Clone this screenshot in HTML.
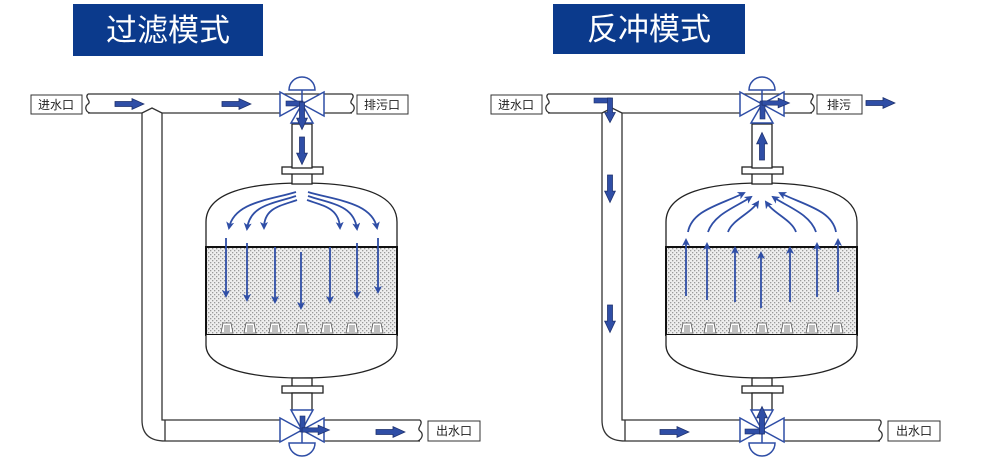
<!DOCTYPE html>
<html><head><meta charset="utf-8"><style>
body{margin:0;background:#fff;}
svg{display:block;font-family:"Liberation Sans","Noto Sans CJK SC",sans-serif;}
</style></head><body>
<svg width="1000" height="467" viewBox="0 0 1000 467" xmlns="http://www.w3.org/2000/svg">
<defs>
<pattern id="dots" width="4" height="4" patternUnits="userSpaceOnUse">
<rect width="4" height="4" fill="#eeeeee"/><rect x="0" y="0" width="1.3" height="1.3" fill="#9a9a9a"/><rect x="2" y="2" width="1.3" height="1.3" fill="#9a9a9a"/>
</pattern>
<marker id="ah" markerWidth="8" markerHeight="8" refX="6" refY="4" orient="auto" markerUnits="userSpaceOnUse">
<path d="M0,0 L8,4 L0,8 L2,4 Z" fill="#2f4ea6"/></marker>
<polygon id="fa" points="0,-2.8 17,-2.8 17,-6 29,0 17,6 17,2.8 0,2.8" fill="#2f4ea6" stroke="#1d2f6a" stroke-width="0.8"/>
<g id="nz"><path d="M-6,10 L-4,0 L4,0 L6,10 Z" fill="#fff" stroke="#555" stroke-width="0.8"/><path d="M-2,2 V9 M0,2 V9 M2,2 V9" stroke="#444" stroke-width="0.7"/></g>
<g id="tank" fill="none" stroke="#222" stroke-width="1.3">
<path d="M206,248 V222 C206,192 250,183 302,183 C354,183 397,192 397,222 V248" fill="#fff"/>
<rect x="206" y="247" width="191" height="88" fill="url(#dots)" stroke="#111" stroke-width="2"/>
<path d="M206,335 V345 C206,368 250,378 302,378 C354,378 397,368 397,345 V335" fill="#fff"/>
<rect x="292" y="170" width="20" height="14" fill="#fff"/>
<rect x="282" y="167" width="41" height="7" fill="#fff"/>
<rect x="292" y="378" width="20" height="9" fill="#fff"/>
<rect x="282" y="386" width="41" height="7" fill="#fff"/>
<rect x="292" y="124" width="20" height="44" fill="#fff"/>
<rect x="292" y="393" width="20" height="18" fill="#fff"/>
</g>
<g id="pipes" fill="none" stroke="#333" stroke-width="1.3">
<path d="M88,94 H352 M88,113 H142 M162,113 H282 M322,113 H352"/>
<path d="M142,113 V420 Q142,441 165,441 H282 M162,113 V420 H282 M165,420 V441 M322,420 H420 M322,441 H420"/>
<path d="M142,113 L152,108 L162,113"/>
<path d="M88,94 C84,98 92,101 88,104 C84,107 86,112 90,113"/>
<path d="M352,94 C356,98 348,101 352,104 C356,107 354,112 350,113"/>
<path d="M420,420 C424,424 416,428 420,431 C424,434 422,439 418,441"/>
</g>
<g id="valves" fill="#fff" stroke="#2f4ea6" stroke-width="1.5">
<polygon points="280,92 280,116 302,104"/><polygon points="324,92 324,116 302,104"/><polygon points="291,123 313,123 302,104"/>
<path d="M289,90 A13,13 0 0 1 315,90 Z"/><line x1="302" y1="90" x2="302" y2="104"/>
<polygon points="291,410 313,410 302,430"/><polygon points="280,418 280,442 302,430"/><polygon points="324,418 324,442 302,430"/>
<path d="M289,443 A13,13 0 0 0 315,443 Z"/><line x1="302" y1="430" x2="302" y2="443"/>
</g>
<g id="nzs"><use href="#nz" x="227" y="323"/><use href="#nz" x="250" y="323"/><use href="#nz" x="275" y="323"/><use href="#nz" x="302" y="323"/><use href="#nz" x="327" y="323"/><use href="#nz" x="352" y="323"/><use href="#nz" x="377" y="323"/></g>
</defs>

<rect x="73" y="4" width="190" height="52" fill="#0b3a8c"/>
<text x="168" y="41" font-size="31" fill="#fff" text-anchor="middle">过滤模式</text>
<rect x="553" y="4" width="192" height="50" fill="#0b3a8c"/>
<text x="649" y="40" font-size="31" fill="#fff" text-anchor="middle">反冲模式</text>

<!-- LEFT -->
<g>
<use href="#pipes"/><use href="#tank"/><use href="#nzs"/><use href="#valves"/>
<g font-size="12" fill="#222">
<rect x="31" y="95" width="51" height="19" fill="#fff" stroke="#333"/><text x="56" y="109" text-anchor="middle">进水口</text>
<rect x="357" y="95" width="51" height="19" fill="#fff" stroke="#333"/><text x="382" y="109" text-anchor="middle">排污口</text>
<rect x="428" y="421" width="52" height="20" fill="#fff" stroke="#333"/><text x="454" y="435" text-anchor="middle">出水口</text>
</g>
<use href="#fa" transform="translate(115,104) scale(1,0.9)"/>
<use href="#fa" transform="translate(222,104) scale(1,0.9)"/>
<use href="#fa" transform="translate(376,432) scale(1,0.9)"/>
<rect x="286" y="101" width="17" height="5" fill="#2f4ea6" stroke="#1d2f6a" stroke-width="0.6"/>
<use href="#fa" transform="translate(302,102) rotate(90) scale(0.95,0.9)"/>
<use href="#fa" transform="translate(302,137) rotate(90) scale(0.95,0.9)"/>
<rect x="300" y="416" width="5" height="16" fill="#2f4ea6" stroke="#1d2f6a" stroke-width="0.6"/>
<use href="#fa" transform="translate(302,430) scale(0.95,0.8)"/>
<g stroke="#2f4ea6" stroke-width="1.8" fill="none" marker-end="url(#ah)">
<path d="M296,192 C270,200 234,202 229,228"/><path d="M296,196 C272,204 250,205 247,229"/><path d="M297,200 C280,206 264,208 264,228"/>
<path d="M308,192 C334,200 372,202 377,228"/><path d="M308,196 C332,204 354,205 357,229"/><path d="M307,200 C324,206 339,208 340,228"/>
<line x1="226" y1="238" x2="226" y2="296"/><line x1="247" y1="243" x2="247" y2="300"/><line x1="275" y1="247" x2="275" y2="302"/><line x1="301" y1="252" x2="301" y2="308"/><line x1="330" y1="247" x2="330" y2="302"/><line x1="357" y1="243" x2="357" y2="297"/><line x1="378" y1="238" x2="378" y2="292"/>
</g>
</g>

<!-- RIGHT -->
<g transform="translate(460,0)">
<use href="#pipes"/><use href="#tank"/><use href="#nzs"/><use href="#valves"/>
<g font-size="12" fill="#222">
<rect x="31" y="95" width="51" height="19" fill="#fff" stroke="#333"/><text x="56" y="109" text-anchor="middle">进水口</text>
<rect x="357" y="95" width="45" height="19" fill="#fff" stroke="#333"/><text x="379" y="109" text-anchor="middle">排污</text>
<rect x="428" y="421" width="52" height="20" fill="#fff" stroke="#333"/><text x="454" y="435" text-anchor="middle">出水口</text>
</g>
<use href="#fa" transform="translate(406,103) scale(1,0.9)"/>
<use href="#fa" transform="translate(200,432) scale(1,0.9)"/>
<rect x="134" y="98" width="17" height="5" fill="#2f4ea6" stroke="#1d2f6a" stroke-width="0.6"/>
<use href="#fa" transform="translate(150,98) rotate(90) scale(0.85,0.9)"/>
<use href="#fa" transform="translate(150,175) rotate(90) scale(0.95,0.9)"/>
<use href="#fa" transform="translate(150,305) rotate(90) scale(0.95,0.9)"/>
<rect x="300" y="101" width="5" height="18" fill="#2f4ea6" stroke="#1d2f6a" stroke-width="0.6"/>
<use href="#fa" transform="translate(302,103) scale(0.95,0.8)"/>
<use href="#fa" transform="translate(302,160) rotate(-90) scale(0.95,0.9)"/>
<rect x="285" y="429" width="18" height="5" fill="#2f4ea6" stroke="#1d2f6a" stroke-width="0.6"/>
<use href="#fa" transform="translate(302,434) rotate(-90) scale(0.95,0.9)"/>
<g stroke="#2f4ea6" stroke-width="1.8" fill="none" marker-end="url(#ah)">
<path d="M228,232 C232,210 260,205 284,193"/><path d="M248,232 C254,214 276,207 291,197"/><path d="M268,232 C272,220 290,214 298,202"/>
<path d="M376,232 C372,210 344,205 320,193"/><path d="M356,232 C350,214 328,207 313,197"/><path d="M336,232 C332,220 314,214 306,202"/>
<line x1="226" y1="296" x2="226" y2="240"/><line x1="247" y1="300" x2="247" y2="244"/><line x1="275" y1="302" x2="275" y2="248"/><line x1="301" y1="308" x2="301" y2="253"/><line x1="330" y1="302" x2="330" y2="248"/><line x1="357" y1="297" x2="357" y2="244"/><line x1="378" y1="292" x2="378" y2="240"/>
</g>
</g>
</svg>
</body></html>
